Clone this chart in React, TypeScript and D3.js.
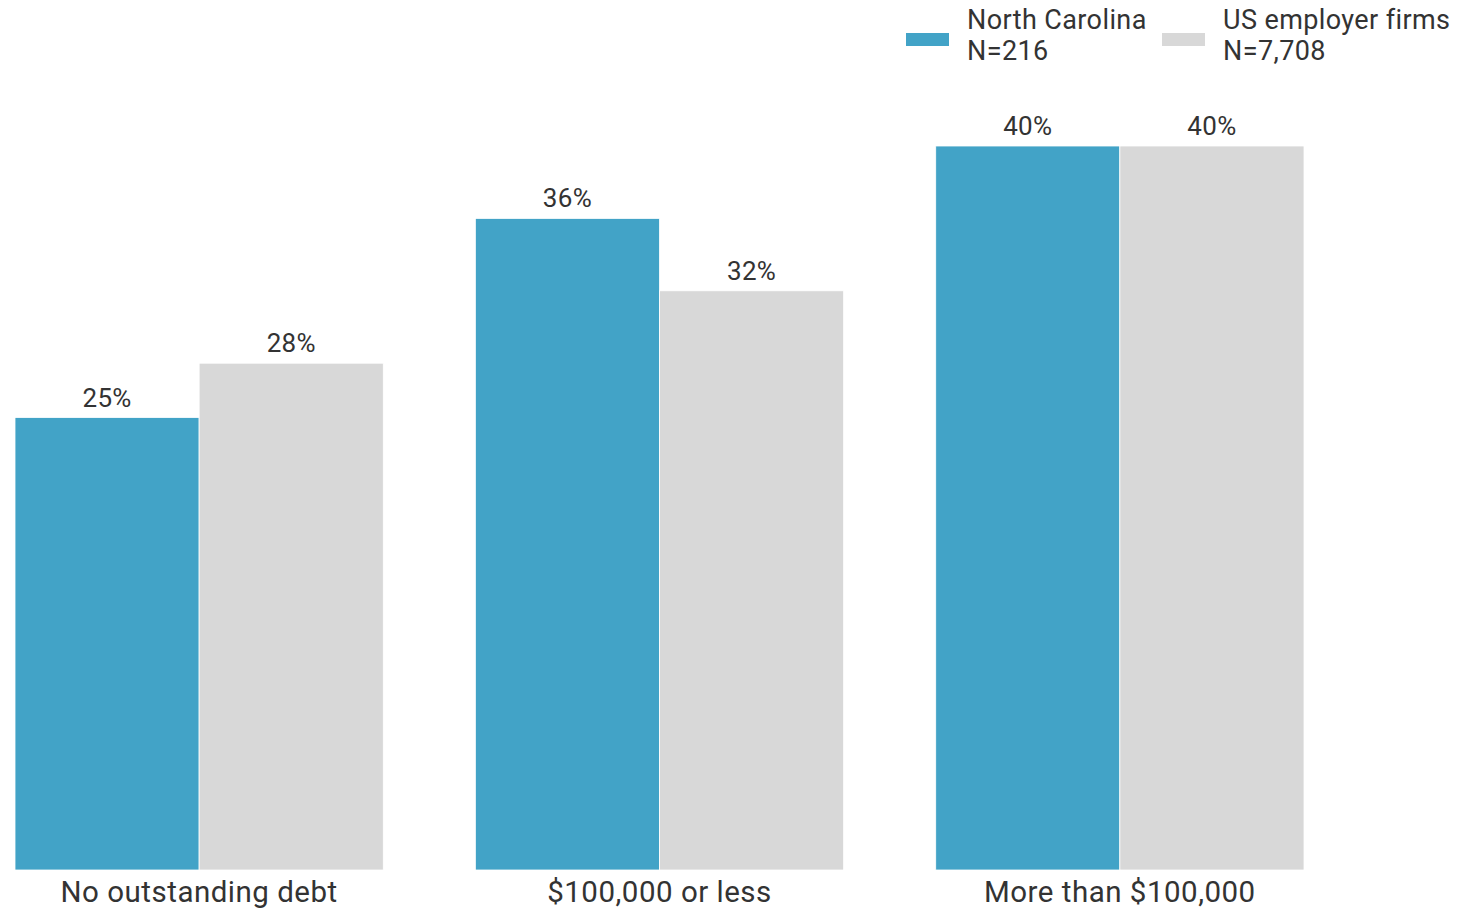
import React from "react";
import * as d3 from "d3";

const categories = ["No outstanding debt", "$100,000 or less", "More than $100,000"];
const seriesNames = ["North Carolina", "US employer firms"];
const seriesN = ["N=216", "N=7,708"];
const northCarolina = [25, 36, 40];
const usFirms = [28, 32, 40];

const W = 1460;
const H = 911;
const colors = ["#42a3c7", "#d8d8d8"];

export default function App() {
  const x = d3.scaleBand<string>().domain(categories).range([15, 1304]).paddingInner(0.2).paddingOuter(0);
  const xs = d3.scaleBand<string>().domain(seriesNames).range([0, x.bandwidth()]);
  const y = d3.scaleLinear().domain([0, 40]).range([870, 146]);
  const series = [northCarolina, usFirms];
  const font = "Roboto, 'Noto Sans', sans-serif";
  const legendX = [906, 1162];

  return (
    <svg width={W} height={H} style={{ position: "absolute", left: 0, top: 0, background: "#fff" }} fontFamily={font}>
      {categories.map((c, i) => (
        <g key={c}>
          {series.map((s, j) => (
            <g key={j}>
              <rect
                x={(x(c) as number) + (xs(seriesNames[j]) as number)}
                y={y(s[i])}
                width={xs.bandwidth()}
                height={y(0) - y(s[i])}
                fill={colors[j]}
                stroke="#fff"
                strokeWidth={0.8}
              />
              <text
                x={(x(c) as number) + (xs(seriesNames[j]) as number) + xs.bandwidth() / 2}
                y={y(s[i]) - 11}
                textAnchor="middle"
                fontSize={26}
                letterSpacing={0.3}
                fill="#333"
              >
                {s[i]}%
              </text>
            </g>
          ))}
          <text
            x={(x(c) as number) + x.bandwidth() / 2}
            y={902}
            textAnchor="middle"
            fontSize={29.5}
            letterSpacing={0.5}
            fill="#333"
          >
            {c}
          </text>
        </g>
      ))}
      {seriesNames.map((n, j) => (
        <g key={n}>
          <rect x={legendX[j]} y={33} width={43} height={13} fill={colors[j]} />
          <text x={legendX[j] + 61} y={29} fontSize={27} letterSpacing={0.4} fill="#333">{n}</text>
          <text x={legendX[j] + 61} y={60} fontSize={27} letterSpacing={0.4} fill="#333">{seriesN[j]}</text>
        </g>
      ))}
    </svg>
  );
}
